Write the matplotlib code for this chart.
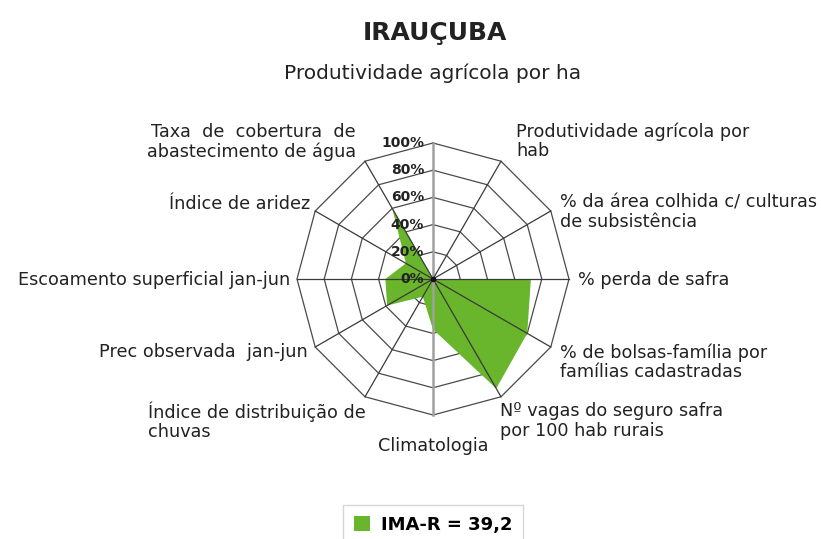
import numpy as np
import matplotlib.pyplot as plt

# chart data
title = 'IRAUÇUBA'
categories = [
    'Produtividade agrícola por ha',
    'Produtividade agrícola por\nhab',
    '% da área colhida c/ culturas\nde subsistência',
    '% perda de safra',
    '% de bolsas-família por\nfamílias cadastradas',
    'Nº vagas do seguro safra\npor 100 hab rurais',
    'Climatologia',
    'Índice de distribuição de\nchuvas',
    'Prec observada  jan-jun',
    'Escoamento superficial jan-jun',
    'Índice de aridez',
    'Taxa  de  cobertura  de\nabastecimento de água',
]
values = [0, 0, 0, 72, 80, 93, 37, 15, 39, 35, 23, 60]
ring_levels = [0, 20, 40, 60, 80, 100]
ring_labels = ['0%', '20%', '40%', '60%', '80%', '100%']
legend_label = 'IMA-R = 39,2'

# layout (pixels)
W, H = 821, 539
cx, cy, R = 433, 279, 136
# x, y, ha, multialignment for each category label
label_pos = [
    (433, 73, 'center', 'center'),
    (516, 141, 'left', 'left'),
    (560, 212, 'left', 'left'),
    (578, 280, 'left', 'left'),
    (560, 362, 'left', 'left'),
    (500, 421, 'left', 'left'),
    (433, 446, 'center', 'center'),
    (148, 421, 'left', 'left'),
    (308, 352, 'right', 'right'),
    (290, 280, 'right', 'right'),
    (310, 204, 'right', 'right'),
    (356, 142, 'right', 'right'),
]
green = '#69b52c'


def fx(x):
    return x / W


def fy(y):
    return 1 - y / H


fig = plt.figure(figsize=(W / 100, H / 100), dpi=100)
fig.patch.set_facecolor('white')

ax = fig.add_axes([(cx - R) / W, (H - cy - R) / H, 2 * R / W, 2 * R / H],
                  projection='polar')
ax.set_theta_zero_location('N')
ax.set_theta_direction(-1)
ax.set_ylim(0, 100)
ax.axis('off')

n = len(categories)
theta = np.deg2rad(np.arange(n) * 360 / n)
theta_c = np.append(theta, theta[0])

# polygon rings
for lv in ring_levels[1:]:
    ax.plot(theta_c, [lv] * (n + 1), color='#4a4a4a', lw=0.9,
            clip_on=False, zorder=1)

# data area
vals_c = np.append(values, values[0])
poly = ax.fill(theta_c, vals_c, color=green, lw=0, zorder=2, clip_on=False)

# spokes
for i, t in enumerate(theta):
    if i % 6 == 0:
        ax.plot([t, t], [0, 100], color='#a0a0a0', lw=1.8, clip_on=False, zorder=3)
    else:
        ax.plot([t, t], [0, 100], color='#3a3a3a', lw=0.9, clip_on=False, zorder=3)
ax.plot([0], [0], 'o', color='#111111', ms=3, zorder=4, clip_on=False)

# percentage labels
for lv, lab in zip(ring_levels, ring_labels):
    ax.annotate(lab, xy=(0, lv), xytext=(-9, 0), textcoords='offset pixels',
                ha='right', va='center', fontsize=10, fontweight='bold',
                color='#222222', zorder=5, annotation_clip=False)

# category labels
for lab, (x, y, ha, ma) in zip(categories, label_pos):
    size = 14.5 if lab == categories[0] else 12.7
    fig.text(fx(x), fy(y), lab, ha=ha, va='center', multialignment=ma,
             fontsize=size, color='#222222', linespacing=1.08)

fig.text(fx(435), fy(33), title, ha='center', va='center',
         fontsize=18, fontweight='bold', color='#222222')

leg = fig.legend(handles=poly, labels=[legend_label], loc='center',
                 bbox_to_anchor=(fx(433), fy(525)), frameon=True,
                 fancybox=False, edgecolor='#cccccc',
                 prop={'weight': 'bold', 'size': 13},
                 handlelength=0.9, handleheight=0.9, borderpad=0.6,
                 handletextpad=0.6, borderaxespad=0)
leg.get_frame().set_linewidth(1.0)

fig.savefig('out.png', dpi=100)
